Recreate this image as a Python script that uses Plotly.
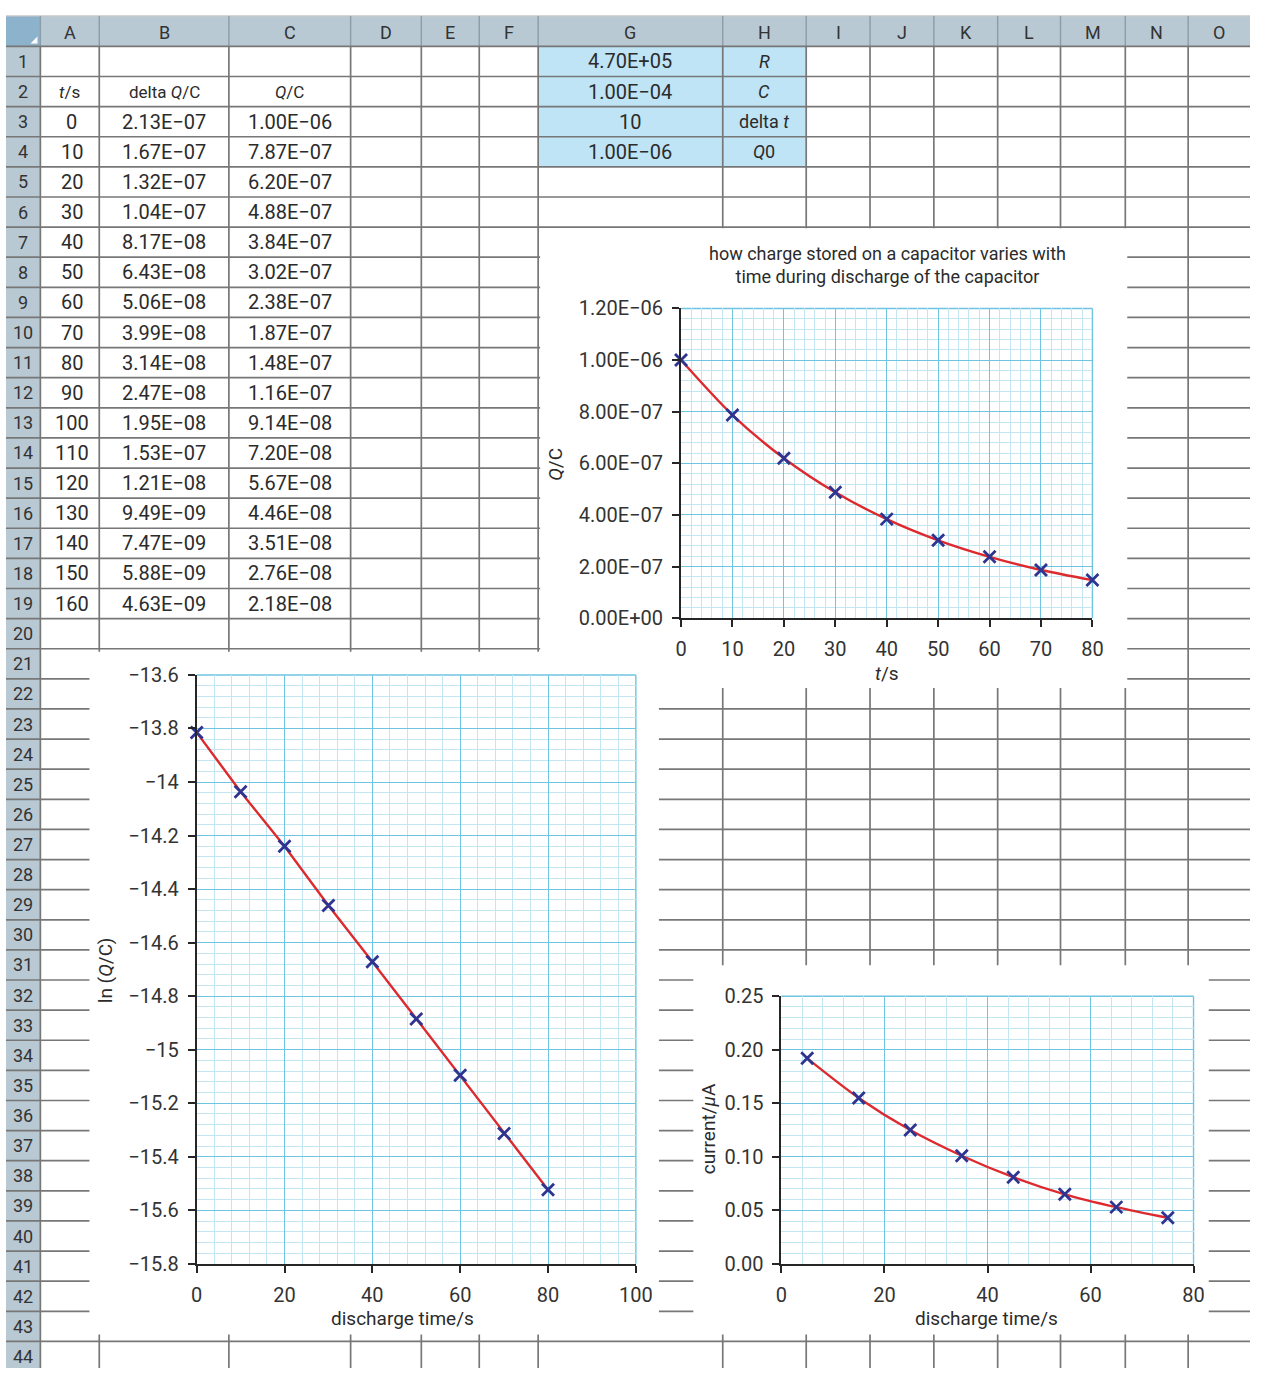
import plotly.graph_objects as go

W, H = 1267, 1380
FONT = "Roboto, 'Open Sans', sans-serif"

# ---------------- data ----------------
col_letters = ["A", "B", "C", "D", "E", "F", "G", "H", "I", "J", "K", "L", "M", "N", "O"]
row_numbers = list(range(1, 45))

t_s = [0, 10, 20, 30, 40, 50, 60, 70, 80, 90, 100, 110, 120, 130, 140, 150, 160]
delta_q = [2.13e-7, 1.67e-7, 1.32e-7, 1.04e-7, 8.17e-8, 6.43e-8, 5.06e-8, 3.99e-8, 3.14e-8,
           2.47e-8, 1.95e-8, 1.53e-7, 1.21e-8, 9.49e-9, 7.47e-9, 5.88e-9, 4.63e-9]
q_c = [1.00e-6, 7.87e-7, 6.20e-7, 4.88e-7, 3.84e-7, 3.02e-7, 2.38e-7, 1.87e-7, 1.48e-7,
       1.16e-7, 9.14e-8, 7.20e-8, 5.67e-8, 4.46e-8, 3.51e-8, 2.76e-8, 2.18e-8]
table_headers = ["<i>t</i>/s", "delta <i>Q</i>/C", "<i>Q</i>/C"]

param_values = [4.70e5, 1.00e-4, 10, 1.00e-6]
param_labels = ["<i>R</i>", "<i>C</i>", "delta <i>t</i>", "<i>Q</i>0"]

# chart 1: Q/C against t
q_plot_t = [0, 10, 20, 30, 40, 50, 60, 70, 80]
q_plot_q = [1.00e-6, 7.87e-7, 6.20e-7, 4.88e-7, 3.84e-7, 3.02e-7, 2.38e-7, 1.87e-7, 1.48e-7]
q_ticks = [0, 2e-7, 4e-7, 6e-7, 8e-7, 1.0e-6, 1.2e-6]
q_tick_labels = ["0.00E+00", "2.00E−07", "4.00E−07", "6.00E−07", "8.00E−07", "1.00E−06", "1.20E−06"]
q_title = "how charge stored on a capacitor varies with<br>time during discharge of the capacitor"

# chart 2: ln(Q/C) against discharge time
ln_t = [0, 10, 20, 30, 40, 50, 60, 70, 80]
ln_q = [-13.815, -14.036, -14.24, -14.461, -14.671, -14.885, -15.095, -15.313, -15.523]

# chart 3: current against discharge time
cur_t = [5, 15, 25, 35, 45, 55, 65, 75]
cur_ua = [0.192, 0.155, 0.125, 0.101, 0.081, 0.065, 0.053, 0.043]

# ---------------- styling / geometry ----------------
TXT = "#2b2b2b"
GRID = "#777777"
HEADER_BG = "#b8c9d3"
HEADER_LINE = "#8d9ca6"
CORNER_BG = "#8cb3cb"
PARAM_BG = "#bfe4f6"
MAJOR = "#6fc4e1"
MINOR = "#c4e6f3"
RED = "#dd2a2f"
NAVY = "#2f3490"

COL_EDGES = [35, 95, 227, 351, 423, 482, 542, 730, 815, 880, 945, 1010, 1074, 1140, 1204, 1267]
HEAD_TOP = 4
ROW_TOP = 35
ROW_H = 30.65


def px(x):
    return x / W


def py(y):
    return 1 - y / H


def row_center(r):
    return ROW_TOP + (r - 0.5) * ROW_H


def col_center(i):
    return (COL_EDGES[i] + COL_EDGES[i + 1]) / 2


shapes = []
annotations = []


def rect(x0, y0, x1, y1, fill):
    shapes.append(dict(type="rect", xref="paper", yref="paper", layer="below",
                       x0=px(x0), x1=px(x1), y0=py(y1), y1=py(y0),
                       fillcolor=fill, line=dict(width=0)))


def line(x0, y0, x1, y1, color=GRID, width=1.7):
    shapes.append(dict(type="line", xref="paper", yref="paper", layer="below",
                       x0=px(x0), x1=px(x1), y0=py(y0), y1=py(y1),
                       line=dict(color=color, width=width)))


def text(x, y, s, size=20, color=TXT, angle=0, xanchor="center"):
    annotations.append(dict(x=px(x), y=py(y), xref="paper", yref="paper", text=s,
                            showarrow=False, textangle=angle, xanchor=xanchor, yanchor="middle",
                            font=dict(family=FONT, size=size, color=color)))


def sci(v):
    if isinstance(v, int):
        return str(v)
    return f"{v:.2E}".replace("-", "−")


# --- spreadsheet backgrounds ---
rect(0, HEAD_TOP, W, ROW_TOP, HEADER_BG)
rect(0, ROW_TOP, COL_EDGES[0], H, HEADER_BG)
rect(0, HEAD_TOP, COL_EDGES[0], ROW_TOP, CORNER_BG)
rect(COL_EDGES[6], ROW_TOP, COL_EDGES[8], ROW_TOP + 4 * ROW_H, PARAM_BG)
# little white triangle in the corner cell
shapes.append(dict(type="path", xref="paper", yref="paper", layer="below",
                   path=f"M {px(32)},{py(32)} L {px(32)},{py(25)} L {px(25)},{py(32)} Z",
                   fillcolor="white", line=dict(width=0)))

# --- grid lines ---
line(0, HEAD_TOP, W, HEAD_TOP, color="#c9c9c9", width=1.2)
for x in COL_EDGES[:-1]:
    line(x, HEAD_TOP, x, ROW_TOP, color=HEADER_LINE, width=1.4)
    line(x, ROW_TOP, x, H, color=GRID)
n = 0
while ROW_TOP + n * ROW_H < H:
    line(0, ROW_TOP + n * ROW_H, W, ROW_TOP + n * ROW_H, color=GRID)
    n += 1

# --- white chart panels covering the grid ---
rect(544, 220, 1142, 688, "white")
rect(85, 651, 665, 1346, "white")
rect(700, 970, 1225, 1346, "white")

# --- headers text ---
for i, letter in enumerate(col_letters):
    text(col_center(i), (HEAD_TOP + ROW_TOP) / 2 + 1, letter, size=18, color="#333")
for r in row_numbers:
    text(COL_EDGES[0] / 2, row_center(r), str(r), size=18, color="#333")

# --- table cells ---
for i, h in enumerate(table_headers):
    text(col_center(i), row_center(2), h, size=17)
for k in range(len(t_s)):
    r = 3 + k
    text(col_center(0) + 2, row_center(r), str(t_s[k]))
    text(col_center(1), row_center(r), sci(delta_q[k]))
    text(col_center(2), row_center(r), sci(q_c[k]))
for k in range(len(param_values)):
    r = 1 + k
    text(col_center(6), row_center(r), sci(param_values[k]))
    text(col_center(7), row_center(r), param_labels[k], size=18)

# --- chart titles and axis titles ---
text(898, 257, q_title, size=18)
text(897, 673, "<i>t</i>/s", size=19)
text(560, 460, "<i>Q</i>/C", size=19, angle=-90)
text(404, 1330, "discharge time/s", size=19)
text(101, 975, "ln (<i>Q</i>/C)", size=19, angle=-90)
text(999, 1330, "discharge time/s", size=19)
text(715, 1137, "current/<i>μ</i>A", size=19, angle=-90)

# --- chart areas ---
C1 = dict(x0=687.5, x1=1106.5, y0=301.7, y1=617)
C2 = dict(x0=194.2, x1=641.5, y0=674.7, y1=1274)
C3 = dict(x0=789.8, x1=1209.5, y0=1001.7, y1=1274)


def axis(c, horizontal, rng, anchor, minor_dtick, **kw):
    d = dict(
        domain=[px(c["x0"]), px(c["x1"])] if horizontal else [py(c["y1"]), py(c["y0"])],
        anchor=anchor, range=rng, showline=True, linecolor="#262626", linewidth=2,
        ticks="outside", ticklen=7, tickwidth=1.6, tickcolor="#262626",
        ticklabelstandoff=5,
        showgrid=True, gridcolor=MAJOR, gridwidth=1.4, zeroline=False,
        tickfont=dict(family=FONT, size=20, color="#333"),
        minor=dict(tickmode="linear", tick0=0, dtick=minor_dtick, showgrid=True,
                   gridcolor=MINOR, gridwidth=0.9, ticks=""),
        fixedrange=True,
    )
    d.update(kw)
    return d


marker = dict(symbol="x-thin", size=12, line=dict(width=2.8, color=NAVY), color=NAVY)

fig = go.Figure()
fig.add_trace(go.Scatter(x=q_plot_t, y=q_plot_q, xaxis="x", yaxis="y", mode="lines+markers",
                         line=dict(color=RED, width=2.4, shape="spline", smoothing=0.8),
                         marker=marker, cliponaxis=False, showlegend=False, hoverinfo="skip"))
fig.add_trace(go.Scatter(x=ln_t, y=ln_q, xaxis="x2", yaxis="y2", mode="lines+markers",
                         line=dict(color=RED, width=2.4), marker=marker, cliponaxis=False,
                         showlegend=False, hoverinfo="skip"))
fig.add_trace(go.Scatter(x=cur_t, y=cur_ua, xaxis="x3", yaxis="y3", mode="lines+markers",
                         line=dict(color=RED, width=2.4, shape="spline", smoothing=0.8),
                         marker=marker, cliponaxis=False, showlegend=False, hoverinfo="skip"))

# light-blue top/right borders of the plot areas
for xa, ya in [("x", "y"), ("x2", "y2"), ("x3", "y3")]:
    shapes.append(dict(type="line", xref=f"{xa} domain", yref=f"{ya} domain", layer="below",
                       x0=0, x1=1, y0=1, y1=1, line=dict(color=MAJOR, width=1.4)))
    shapes.append(dict(type="line", xref=f"{xa} domain", yref=f"{ya} domain", layer="below",
                       x0=1, x1=1, y0=0, y1=1, line=dict(color=MAJOR, width=1.4)))

fig.update_layout(
    width=W, height=H,
    margin=dict(l=0, r=0, t=0, b=0),
    paper_bgcolor="white",
    plot_bgcolor="rgba(0,0,0,0)",
    showlegend=False,
    font=dict(family=FONT, color=TXT),
    xaxis=axis(C1, True, [0, 80], "y", 2, tick0=0, dtick=10),
    yaxis=axis(C1, False, [0, 1.2e-6], "x", 4e-8, tickmode="array",
               tickvals=q_ticks, ticktext=q_tick_labels),
    xaxis2=axis(C2, True, [0, 100], "y2", 4, tick0=0, dtick=20),
    yaxis2=axis(C2, False, [-15.8, -13.6], "x2", 0.04, tick0=-13.6, dtick=0.2),
    xaxis3=axis(C3, True, [0, 80], "y3", 4, tick0=0, dtick=20),
    yaxis3=axis(C3, False, [0, 0.25], "x3", 0.01, tick0=0, dtick=0.05, tickformat=".2f"),
    shapes=shapes,
    annotations=annotations,
)

fig.write_html("out.html", config={"displayModeBar": False},
               post_script="document.body.style.margin='0';document.body.style.overflow='hidden';")
